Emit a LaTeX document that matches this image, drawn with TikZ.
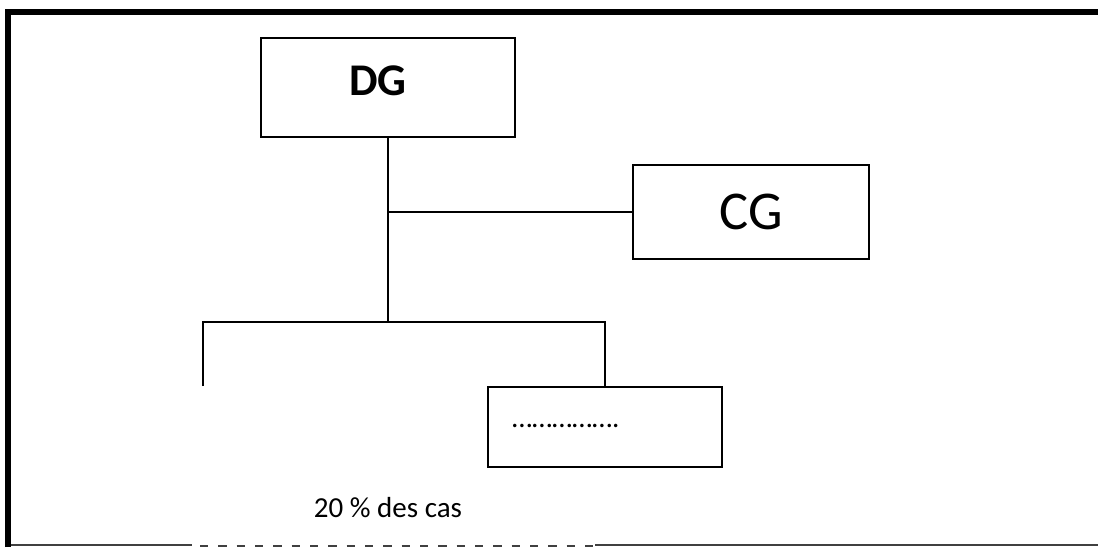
\documentclass[tikz,border=0pt]{standalone}
\usepackage{fontspec}
\setmainfont{Carlito}

\begin{document}
\begin{tikzpicture}[x=0.75pt, y=-0.75pt,
        orgbox/.style={draw, line width=1.2pt, inner sep=0pt},
        link/.style={line width=1.2pt}]
        \useasboundingbox (0,0) rectangle (1098,547);
        % frame
        \draw[line width=4.5pt] (8,547) -- (8,12) -- (1098,12);
        \draw[line width=0.8pt, black!75] (11,545) -- (192,545);
        \draw[line width=0.8pt, black!75, dash pattern=on 6.25pt off 7.5pt] (200,546) -- (593,546);
        \draw[line width=0.8pt, black!75] (595,545) -- (1098,545);
        % boxes
        \node[orgbox, minimum width=190.5pt, minimum height=74.25pt, text depth=10.5pt,
            font=\fontsize{34}{40}\selectfont\bfseries] (dg) at (388,87.5) {\hspace*{-15pt}DG};
        \node[orgbox, minimum width=177pt, minimum height=70.5pt,
            font=\fontsize{41}{48}\selectfont] (cg) at (751,212) {CG};
        \node[orgbox, minimum height=60pt, inner xsep=18pt, text width=139.5pt, align=left,
            text height=0.3em, text depth=0.3em,
            font=\fontsize{21.75}{26}\selectfont] (dots) at (605,427) {…………….};
        \node[font=\fontsize{21.75}{26}\selectfont] (share) at (388,508) {20 \% des cas};
        % links
        \coordinate (busL) at (203,322);
        \coordinate (leftend) at (203,386);
        \draw[link] (dg.south) -- (dg.south |- busL);
        \draw[link] (dg.south |- cg.west) -- (cg.west);
        \draw[link] (leftend) -- (busL) -- (dots.north |- busL) -- (dots.north);
    \end{tikzpicture}
\end{document}
